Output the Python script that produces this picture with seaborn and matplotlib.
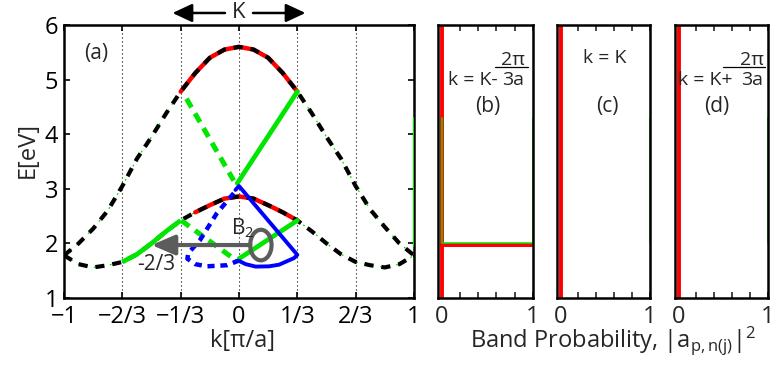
import matplotlib
matplotlib.use("Agg")
import matplotlib.pyplot as plt
import seaborn as sns
from matplotlib.patches import Ellipse

# ---------------- data ----------------
# wave vector k in units of pi/a
k_grid = [-1, -11/12, -5/6, -3/4, -2/3, -7/12, -1/2, -5/12, -1/3, -1/4, -1/6, -1/12, 0,
          1/12, 1/6, 1/4, 1/3, 5/12, 1/2, 7/12, 2/3, 3/4, 5/6, 11/12, 1]
# energies (eV) of the two bands
upper_band = [1.78, 2.00, 2.27, 2.60, 3.05, 3.55, 3.95, 4.38, 4.78, 5.12, 5.40, 5.55, 5.60,
              5.55, 5.40, 5.12, 4.78, 4.38, 3.95, 3.55, 3.05, 2.62, 2.30, 2.00, 1.78]
lower_band = [1.78, 1.62, 1.56, 1.60, 1.66, 1.80, 2.00, 2.22, 2.42, 2.57, 2.70, 2.82, 2.86,
              2.82, 2.70, 2.57, 2.42, 2.22, 2.00, 1.80, 1.66, 1.60, 1.56, 1.62, 1.78]

# transitions between the bands
green_solid_hi_k = [-0.01, 1/3]
green_solid_hi_e = [3.10, 4.78]
green_dash_hi_k = [-0.30, -0.03]
green_dash_hi_e = [4.65, 3.15]
green_dash_lo_k = [-0.33, -0.03]
green_dash_lo_e = [2.42, 1.72]
green_solid_lo_k = [0.0, 1/3]
green_solid_lo_e = [1.72, 2.42]

blue_solid_k = [-0.02, 0.0, 1/3, 0.314, 0.229, 0.171, 0.095, 0.038, 0.0, -0.02]
blue_solid_e = [2.98, 3.05, 1.79, 1.73, 1.61, 1.58, 1.575, 1.62, 1.68, 1.67]
blue_dash_k = [-0.03, -0.127, -0.223, -0.29, -0.295, -0.25, -0.185, -0.07, -0.005]
blue_dash_e = [2.92, 2.55, 2.06, 1.82, 1.72, 1.62, 1.58, 1.60, 1.68]

edge_k = [1, 1]
edge_e = [1.95, 4.30]

# band probability panels
prob_b_red = [0, 0, 1, 0, 0]
e_b_red = [1.0, 1.97, 1.97, 1.97, 6.0]
prob_b_green = [0, 0, 1, 1]
e_b_green = [4.30, 2.00, 2.00, 4.30]
prob_cd_red = [0, 0]
e_cd_red = [1.0, 6.0]
prob_cd_green = [1, 1]
e_cd_green = [2.00, 4.30]

k_ticks = [-1, -2/3, -1/3, 0, 1/3, 2/3, 1]
k_tick_labels = ["\u22121", "\u22122/3", "\u22121/3", "0", "1/3", "2/3", "1"]
e_ticks = [1, 2, 3, 4, 5, 6]

# ---------------- style ----------------
sns.set_style("ticks")
plt.rcParams["font.family"] = ["Open Sans", "DejaVu Sans"]
plt.rcParams["mathtext.fontset"] = "custom"
plt.rcParams["mathtext.rm"] = "Open Sans"
plt.rcParams["mathtext.it"] = "Open Sans"
plt.rcParams["mathtext.default"] = "regular"
NARROW = ["Liberation Sans Narrow", "DejaVu Sans Condensed", "Open Sans"]

GREEN = "#00e600"
BLUE = "#0000ff"
RED = "#ff0000"
GRAY = "#5c5c5c"
TICK_FS = 17

fig = plt.figure(figsize=(7.72, 3.66), dpi=100)
ax_a = fig.add_axes([64/772, 68/366, 350/772, 273/366])
ax_b = fig.add_axes([438/772, 68/366, 95/772, 273/366])
ax_c = fig.add_axes([557/772, 68/366, 93/772, 273/366])
ax_d = fig.add_axes([675/772, 68/366, 93/772, 273/366])


def line(ax, x, y, **kw):
    sns.lineplot(x=x, y=y, ax=ax, sort=False, estimator=None, legend=False, **kw)


# ---------------- panel (a): band structure ----------------
for kv in [-2/3, -1/3, 0, 1/3, 2/3]:
    ax_a.axvline(kv, color="k", lw=0.8, linestyle=(0, (1, 2.6)), zorder=0.5)

for band in (upper_band, lower_band):
    line(ax_a, k_grid, band, color=GREEN, lw=0.9, linestyle=(0, (1.5, 5)), zorder=1)

red_hi = [i for i, kv in enumerate(k_grid) if -0.34 < kv < 0.34]
red_lo = [i for i, kv in enumerate(k_grid) if -0.26 < kv < 0.34]
line(ax_a, [k_grid[i] for i in red_hi], [upper_band[i] for i in red_hi],
     color=RED, lw=3.2, zorder=2)
line(ax_a, [k_grid[i] for i in red_lo], [lower_band[i] for i in red_lo],
     color=RED, lw=3.2, zorder=2)

for band in (upper_band, lower_band):
    line(ax_a, k_grid, band, color="k", lw=3.0, linestyle=(0, (2.2, 1.9)), zorder=3)

seg = [i for i, kv in enumerate(k_grid) if -0.67 < kv < -0.33]
line(ax_a, [k_grid[i] for i in seg], [lower_band[i] for i in seg],
     color=GREEN, lw=3.4, zorder=4, solid_capstyle="butt")
line(ax_a, green_solid_hi_k, green_solid_hi_e, color=GREEN, lw=3.4, zorder=4)
line(ax_a, green_solid_lo_k, green_solid_lo_e, color=GREEN, lw=3.4, zorder=4)
line(ax_a, green_dash_hi_k, green_dash_hi_e, color=GREEN, lw=3.6,
     linestyle=(0, (2, 1.4)), zorder=4)
line(ax_a, green_dash_lo_k, green_dash_lo_e, color=GREEN, lw=3.6,
     linestyle=(0, (2, 1.4)), zorder=4)
line(ax_a, blue_solid_k, blue_solid_e, color=BLUE, lw=2.8, zorder=4.5)
line(ax_a, blue_dash_k, blue_dash_e, color=BLUE, lw=3.2,
     linestyle=(0, (1.6, 1.3)), zorder=4.5)
line(ax_a, edge_k, edge_e, color=GREEN, lw=1.6, zorder=6)

# optical transition marker
ax_a.annotate("", xy=(-0.50, 1.97), xytext=(0.065, 1.97),
              arrowprops=dict(arrowstyle="-|>,head_length=0.7,head_width=0.3",
                              mutation_scale=20, color=GRAY, lw=3,
                              shrinkA=0, shrinkB=0), zorder=7)
ax_a.add_patch(Ellipse((0.125, 1.97), width=0.122, height=0.56, fill=False,
                       ec=GRAY, lw=3, zorder=7))
ax_a.text(-0.045, 2.28, r"B$_2$", fontsize=15, ha="left", va="center", zorder=8)
ax_a.text(-0.475, 1.62, "-2/3", fontsize=15, ha="center", va="center", zorder=8)
ax_a.text(-0.817, 5.47, "(a)", fontsize=15, ha="center", va="center")

# K marker above the axes
ax_a.text(0, 6.22, "K", fontsize=16, ha="center", va="center", clip_on=False)
for tail, tip in ((-0.08, -0.38), (0.08, 0.38)):
    ax_a.annotate("", xy=(tip, 6.22), xytext=(tail, 6.22), annotation_clip=False,
                  arrowprops=dict(arrowstyle="-|>,head_length=0.6,head_width=0.28",
                                  mutation_scale=20, color="k", lw=1.8,
                                  shrinkA=0, shrinkB=0))

ax_a.set_xlim(-1, 1)
ax_a.set_ylim(1, 6)
ax_a.set_xticks(k_ticks)
ax_a.set_xticklabels(k_tick_labels)
ax_a.set_yticks(e_ticks)
ax_a.tick_params(axis="both", direction="in", length=4, width=1.2,
                 top=True, right=True, labelsize=TICK_FS, colors="k")
ax_a.tick_params(axis="x", pad=5)
ax_a.tick_params(axis="y", pad=4)
ax_a.set_xlabel("k[\u03c0/a]", fontsize=TICK_FS, labelpad=0)
ax_a.xaxis.set_label_coords(0.511, -0.112)
fig.text(28/772, 1 - 150/366, "E[eV]", fontsize=TICK_FS, rotation=90,
         ha="center", va="center")

# ---------------- panels (b)-(d): band probability ----------------
panels = [
    (ax_b, prob_b_red, e_b_red, prob_b_green, e_b_green, "(b)", 0.526),
    (ax_c, prob_cd_red, e_cd_red, prob_cd_green, e_cd_green, "(c)", 0.538),
    (ax_d, prob_cd_red, e_cd_red, prob_cd_green, e_cd_green, "(d)", 0.452),
]
for ax, pr, er, pg, eg, tag, tx in panels:
    line(ax, pr, er, color=RED, lw=2.8, zorder=3)
    line(ax, pg, eg, color=GREEN, lw=1.1, zorder=3.5)
    ax.set_xlim(-0.04, 1)
    ax.set_ylim(1, 6)
    ax.set_xticks([0, 1])
    ax.set_xticks([0.2, 0.4, 0.6, 0.8], minor=True)
    ax.set_yticks([])
    ax.tick_params(axis="x", which="both", direction="in", length=4, width=1.2,
                   top=True, labelsize=TICK_FS, pad=5)
    ax.text(tx, 0.703, tag, transform=ax.transAxes, fontsize=15,
            ha="center", va="center")

for ax in (ax_a, ax_b, ax_c, ax_d):
    for sp in ax.spines.values():
        sp.set_linewidth(1.8)
        sp.set_color("k")
        sp.set_zorder(5)

# k labels with stacked fractions
TXT = 14
ax_b.text(0.105, 0.78, "k = K-", transform=ax_b.transAxes, fontsize=TXT,
          family=NARROW, ha="left", va="baseline")
ax_b.plot([0.60, 0.947], [0.846, 0.846], transform=ax_b.transAxes, color="k", lw=0.9)
ax_b.text(0.79, 0.855, "2\u03c0", transform=ax_b.transAxes, fontsize=TXT,
          family=NARROW, ha="center", va="baseline")
ax_b.text(0.79, 0.78, "3a", transform=ax_b.transAxes, fontsize=TXT,
          family=NARROW, ha="center", va="baseline")

ax_c.text(0.516, 0.861, "k = K", transform=ax_c.transAxes, fontsize=TXT,
          family=NARROW, ha="center", va="baseline")

ax_d.text(0.03, 0.78, "k = K+", transform=ax_d.transAxes, fontsize=TXT,
          family=NARROW, ha="left", va="baseline")
ax_d.plot([0.516, 0.968], [0.846, 0.846], transform=ax_d.transAxes, color="k", lw=0.9)
ax_d.text(0.828, 0.855, "2\u03c0", transform=ax_d.transAxes, fontsize=TXT,
          family=NARROW, ha="center", va="baseline")
ax_d.text(0.828, 0.78, "3a", transform=ax_d.transAxes, fontsize=TXT,
          family=NARROW, ha="center", va="baseline")

fig.text(613/772, 19/366, r"Band Probability, $|a_{p,n(j)}|^2$", fontsize=17,
         ha="center", va="baseline")

fig.savefig("out.png", dpi=100)
